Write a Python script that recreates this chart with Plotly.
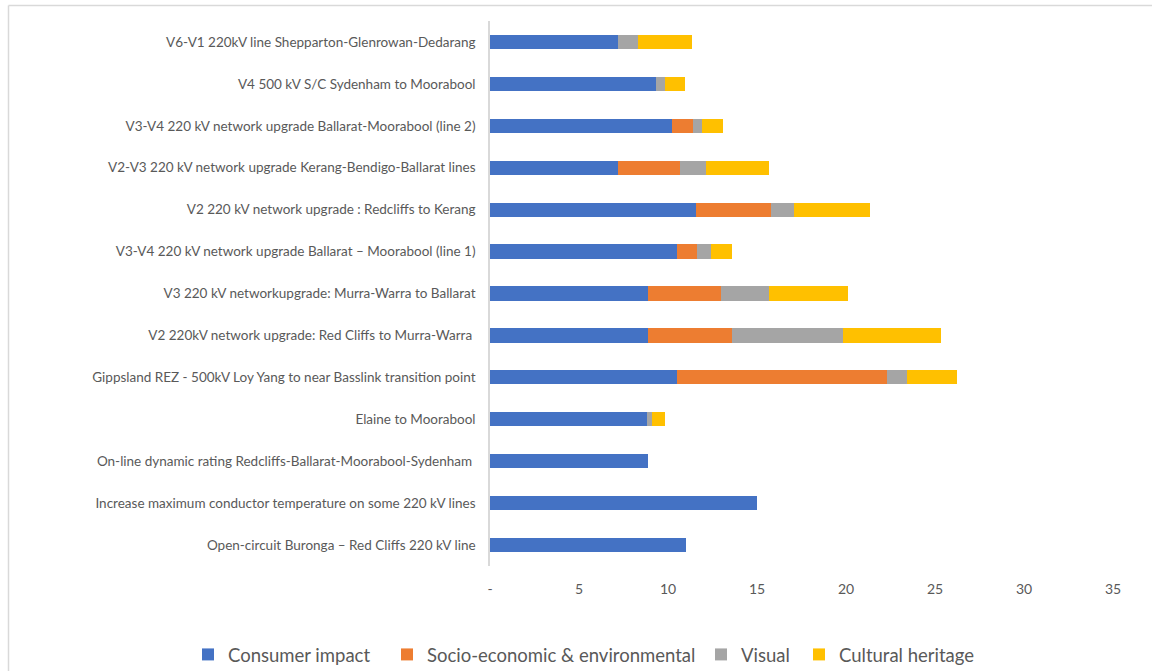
import plotly.graph_objects as go

# Transmission options, listed top to bottom
projects = [
    "V6-V1 220kV line Shepparton-Glenrowan-Dedarang",
    "V4 500 kV S/C Sydenham to Moorabool",
    "V3-V4 220 kV network upgrade Ballarat-Moorabool (line 2)",
    "V2-V3 220 kV network upgrade Kerang-Bendigo-Ballarat lines",
    "V2 220 kV network upgrade : Redcliffs to Kerang",
    "V3-V4 220 kV network upgrade Ballarat \u2013 Moorabool (line 1)",
    "V3 220 kV networkupgrade: Murra-Warra to Ballarat",
    "V2 220kV network upgrade: Red Cliffs to Murra-Warra ",
    "Gippsland REZ - 500kV Loy Yang to near Basslink transition point",
    "Elaine to Moorabool",
    "On-line dynamic rating Redcliffs-Ballarat-Moorabool-Sydenham ",
    "Increase maximum conductor temperature on some 220 kV lines",
    "Open-circuit Buronga \u2013 Red Cliffs 220 kV line",
]

consumer_impact = [7.2, 9.35, 10.2, 7.2, 11.6, 10.5, 8.85, 8.85, 10.5, 8.8, 8.9, 15.0, 11.0]
socio_economic = [0, 0, 1.2, 3.45, 4.2, 1.15, 4.15, 4.75, 11.8, 0, 0, 0, 0]
visual = [1.1, 0.5, 0.5, 1.5, 1.3, 0.75, 2.7, 6.25, 1.1, 0.3, 0, 0, 0]
cultural_heritage = [3.05, 1.1, 1.2, 3.55, 4.25, 1.2, 4.4, 5.5, 2.85, 0.75, 0, 0, 0]

series_names = ["Consumer impact", "Socio-economic & environmental", "Visual", "Cultural heritage"]
series_values = [consumer_impact, socio_economic, visual, cultural_heritage]
series_colors = ["#4472C4", "#ED7D31", "#A5A5A5", "#FFC000"]

x_ticks = [0, 5, 10, 15, 20, 25, 30, 35]
x_tick_text = ["-", "5", "10", "15", "20", "25", "30", "35"]

FONT = "Lato"
TEXT = "#595959"

W, H = 1152, 671
ML, MR, MT, MB = 490, 39, 21, 105
pw, ph = W - ML - MR, H - MT - MB

# one legend box per series so the row of keys sits on a single line
legend_ids = ["legend", "legend2", "legend3", "legend4"]
legend_left_px = [188, 387, 701, 799]

fig = go.Figure()
for name, vals, color, lid in zip(series_names, series_values, series_colors, legend_ids):
    fig.add_trace(go.Bar(
        y=projects, x=vals, name=name, orientation="h",
        marker=dict(color=color, line=dict(width=0)),
        legend=lid,
    ))


def px_x(px):
    return (px - ML) / pw


def px_y(py):
    return (H - MB - py) / ph


border = dict(type="line", xref="paper", yref="paper", line=dict(color="#d9d9d9", width=1.5))

legend_style = dict(
    orientation="h", xref="container", yref="container",
    xanchor="left", y=0.024, yanchor="middle",
    font=dict(size=18.5, color=TEXT), itemwidth=30,
    bgcolor="rgba(0,0,0,0)", borderwidth=0,
)

fig.update_layout(
    width=W, height=H,
    barmode="stack", bargap=0.66,
    margin=dict(l=ML, r=MR, t=MT, b=MB),
    paper_bgcolor="white", plot_bgcolor="white",
    font=dict(family=FONT, color=TEXT, size=13),
    showlegend=True,
    xaxis=dict(
        range=[0, 35], tickvals=x_ticks, ticktext=x_tick_text,
        showgrid=False, zeroline=False, showline=False,
        ticks="", ticklabelstandoff=13,
        tickfont=dict(size=14, color=TEXT),
    ),
    yaxis=dict(
        autorange="reversed", showgrid=False, zeroline=False,
        showline=True, linecolor="#d9d9d9", linewidth=1.5,
        ticks="", ticklabelstandoff=10,
        tickfont=dict(size=13.5, color=TEXT),
    ),
    shapes=[
        dict(border, x0=px_x(8.5), x1=px_x(8.5), y0=px_y(5.5), y1=px_y(H)),
        dict(border, x0=px_x(8.5), x1=px_x(W), y0=px_y(5.5), y1=px_y(5.5)),
    ],
)

for lid, left in zip(legend_ids, legend_left_px):
    fig.update_layout({lid: dict(legend_style, x=left / W)})

fig.write_html("out.html")
